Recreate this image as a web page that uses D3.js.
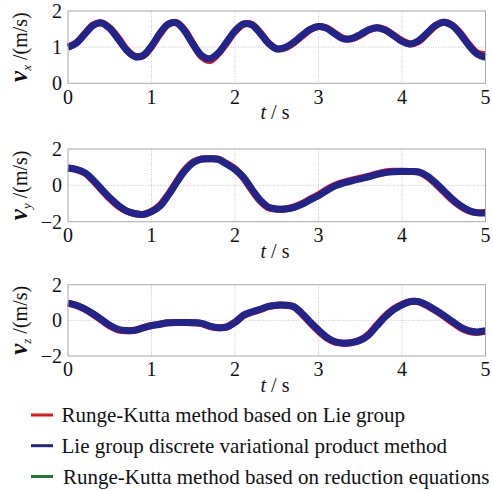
<!DOCTYPE html>
<html>
<head>
<meta charset="utf-8">
<script src="https://cdn.jsdelivr.net/npm/d3@7"></script>
</head>
<body style="margin:0">
<svg id="fig" width="493" height="490"></svg>
<script>
// Sampling instants (s), 0.1 s apart
const timeSteps = d3.range(0, 51).map(i => i / 10);

// v_x (m/s)
const vxRungeKuttaLie = [1.00,1.12,1.37,1.61,1.67,1.53,1.26,0.94,0.75,0.76,1.01,1.36,1.63,1.68,1.46,1.08,0.74,0.63,0.82,1.12,1.43,1.63,1.63,1.41,1.12,0.96,0.98,1.11,1.30,1.48,1.57,1.53,1.38,1.24,1.23,1.33,1.47,1.54,1.48,1.33,1.18,1.09,1.16,1.37,1.59,1.69,1.61,1.38,1.08,0.84,0.79];
const vxLieDiscrete    = [1.00,1.11,1.36,1.60,1.67,1.52,1.23,0.92,0.74,0.77,1.03,1.38,1.64,1.67,1.44,1.07,0.77,0.68,0.84,1.14,1.45,1.64,1.62,1.39,1.11,0.95,0.99,1.13,1.32,1.49,1.57,1.52,1.36,1.23,1.24,1.35,1.48,1.54,1.47,1.32,1.16,1.09,1.18,1.39,1.60,1.69,1.60,1.36,1.05,0.81,0.72];

// v_y (m/s)
const vyRungeKuttaLie = [0.95,0.87,0.68,0.27,-0.24,-0.72,-1.13,-1.42,-1.56,-1.60,-1.43,-1.10,-0.50,0.20,0.85,1.28,1.45,1.46,1.44,1.20,0.90,0.42,-0.25,-0.85,-1.23,-1.31,-1.30,-1.20,-1.01,-0.76,-0.52,-0.23,0.01,0.17,0.29,0.40,0.50,0.63,0.73,0.77,0.77,0.76,0.72,0.48,0.10,-0.35,-0.80,-1.15,-1.40,-1.51,-1.50];
const vyLieDiscrete    = [0.95,0.88,0.70,0.30,-0.20,-0.68,-1.10,-1.40,-1.55,-1.60,-1.45,-1.15,-0.55,0.15,0.80,1.25,1.44,1.46,1.43,1.17,0.88,0.45,-0.20,-0.80,-1.20,-1.30,-1.30,-1.22,-1.05,-0.80,-0.57,-0.28,-0.03,0.13,0.25,0.36,0.47,0.60,0.70,0.75,0.76,0.76,0.74,0.52,0.15,-0.30,-0.75,-1.12,-1.38,-1.50,-1.52];

// v_z (m/s)
const vzRungeKuttaLie = [0.97,0.84,0.63,0.34,0.01,-0.32,-0.53,-0.58,-0.56,-0.41,-0.29,-0.21,-0.14,-0.12,-0.12,-0.13,-0.18,-0.35,-0.42,-0.37,-0.10,0.26,0.45,0.60,0.77,0.85,0.85,0.76,0.36,-0.14,-0.60,-0.99,-1.22,-1.28,-1.24,-1.10,-0.78,-0.25,0.25,0.64,0.89,1.06,1.04,0.83,0.55,0.24,-0.10,-0.42,-0.62,-0.68,-0.62];
const vzLieDiscrete    = [0.97,0.85,0.65,0.37,0.05,-0.28,-0.50,-0.57,-0.56,-0.42,-0.30,-0.22,-0.14,-0.12,-0.12,-0.13,-0.17,-0.33,-0.41,-0.38,-0.12,0.28,0.47,0.62,0.78,0.85,0.85,0.78,0.40,-0.09,-0.55,-0.95,-1.20,-1.28,-1.25,-1.12,-0.82,-0.30,0.20,0.60,0.87,1.05,1.05,0.85,0.58,0.28,-0.05,-0.37,-0.58,-0.65,-0.58];

// The reduction-equation solution coincides with the Lie group solutions
const vxReduction = vxLieDiscrete;
const vyReduction = vyLieDiscrete;
const vzReduction = vzLieDiscrete;

const xTickValues = [0, 1, 2, 3, 4, 5];
const vxTickValues = [0, 1, 2];
const vyTickValues = [-2, 0, 2];
const vzTickValues = [-2, 0, 2];

const methodNames = [
  "Runge-Kutta method based on Lie group",
  "Lie group discrete variational product method",
  "Runge-Kutta method based on reduction equations"
];
const methodColors = ["#e3141c", "#23238c", "#1b7a2e"];

const svg = d3.select("#fig");
const left = 68, right = 485.5;
const x = d3.scaleLinear().domain([0, 5]).range([left, right]);

const panels = [
  { top: 11,    bottom: 83.3, domain: [0, 2],  ticks: vxTickValues, grid: [1], sub: "x",
    series: [vxReduction, vxRungeKuttaLie, vxLieDiscrete] },
  { top: 149,   bottom: 221.7, domain: [-2, 2], ticks: vyTickValues, grid: [0], sub: "y",
    series: [vyReduction, vyRungeKuttaLie, vyLieDiscrete] },
  { top: 284.7, bottom: 356,  domain: [-2, 2], ticks: vzTickValues, grid: [0], sub: "z",
    series: [vzReduction, vzRungeKuttaLie, vzLieDiscrete] }
];
const seriesColors = [methodColors[2], methodColors[0], methodColors[1]];
const fmt = v => (v < 0 ? "\u2212" + Math.abs(v) : String(v));

// serif text helper
function addText(parent, size) {
  return parent.append("text")
    .attr("font-size", size)
    .attr("fill", "#111")
    .style("font-family", '"Liberation Serif"');
}

panels.forEach(p => {
  const y = d3.scaleLinear().domain(p.domain).range([p.bottom, p.top]);
  const g = svg.append("g");

  // dotted grid
  g.selectAll(".vgrid").data(xTickValues.slice(1, -1)).join("line")
    .attr("x1", d => x(d)).attr("x2", d => x(d))
    .attr("y1", p.top).attr("y2", p.bottom)
    .attr("stroke", "#c4c4c4").attr("stroke-width", 1).attr("stroke-dasharray", "1,1.5");
  g.selectAll(".hgrid").data(p.grid).join("line")
    .attr("x1", left).attr("x2", right)
    .attr("y1", d => y(d)).attr("y2", d => y(d))
    .attr("stroke", "#c4c4c4").attr("stroke-width", 1).attr("stroke-dasharray", "1,1.5");

  // curves
  const line = d3.line()
    .x((d, i) => x(timeSteps[i]))
    .y(d => y(d))
    .curve(d3.curveCatmullRom.alpha(0.5));
  p.series.forEach((vals, si) => {
    g.append("path").datum(vals)
      .attr("d", line)
      .attr("fill", "none")
      .attr("stroke", seriesColors[si])
      .attr("stroke-width", si === 0 ? 4 : 7)
      .attr("stroke-linejoin", "round")
      .attr("stroke-linecap", "butt");
  });

  // frame
  g.append("rect")
    .attr("x", left).attr("y", p.top)
    .attr("width", right - left).attr("height", p.bottom - p.top)
    .attr("fill", "none").attr("stroke", "#a8a8a8").attr("stroke-width", 1);

  // y tick labels
  p.ticks.forEach(t => {
    addText(g, 20).attr("x", 62).attr("y", y(t)).attr("dy", "0.34em")
      .attr("text-anchor", "end").text(fmt(t));
  });

  // x tick labels
  xTickValues.forEach(t => {
    addText(g, 20).attr("x", x(t)).attr("y", p.bottom + 20.3)
      .attr("text-anchor", "middle").text(t);
  });

  // x title
  const xt = addText(g, 20).attr("x", 275).attr("y", p.bottom + 36)
    .attr("text-anchor", "middle");
  xt.append("tspan").style("font-style", "italic").text("t");
  xt.append("tspan").text(" / s");

  // y title
  const yt = addText(g, 20)
    .attr("transform", `translate(27,${(p.top + p.bottom) / 2}) rotate(-90)`)
    .attr("text-anchor", "middle");
  yt.append("tspan").style("font-style", "italic").style("font-weight", "bold")
    .attr("font-size", 25).text("v");
  yt.append("tspan").style("font-style", "italic").attr("font-size", 13)
    .attr("dy", 4).text(p.sub);
  yt.append("tspan").attr("dy", -4).text(" /(m/s)");
});

// legend
const legendRows = [415, 445.7, 476.5];
methodNames.forEach((name, i) => {
  svg.append("line")
    .attr("x1", 31).attr("x2", 53)
    .attr("y1", legendRows[i]).attr("y2", legendRows[i])
    .attr("stroke", methodColors[i]).attr("stroke-width", 3);
  addText(svg, 21)
    .attr("x", i === 2 ? 63 : 61.5).attr("y", legendRows[i] + 7)
    .text(name);
});
</script>
</body>
</html>
